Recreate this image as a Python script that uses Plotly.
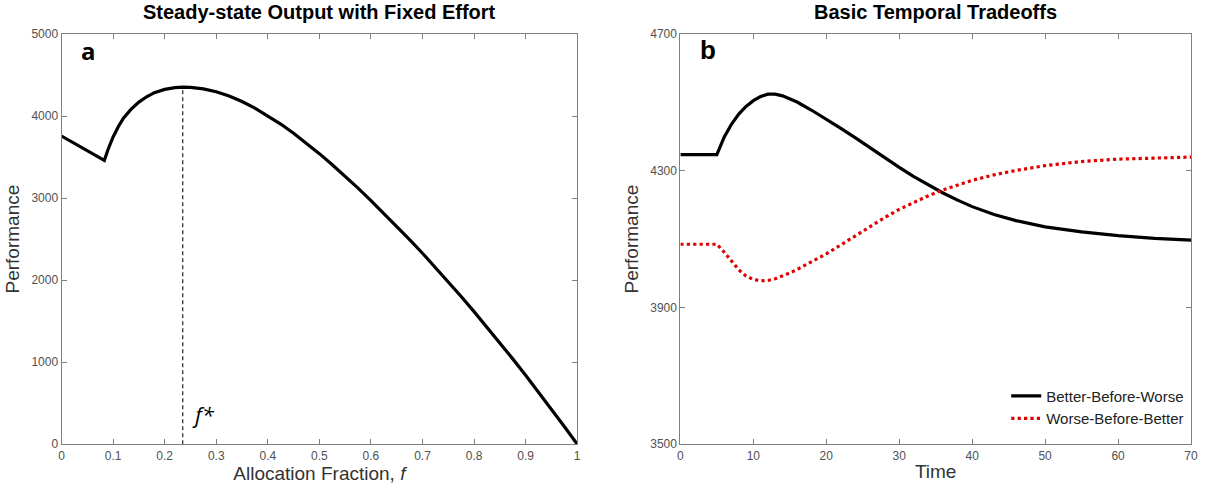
import plotly.graph_objects as go

# Panel a: steady-state performance vs allocation fraction
f_vals = [0.0, 0.083, 0.09, 0.1, 0.11, 0.12, 0.135, 0.15, 0.165, 0.18, 0.2,
          0.22, 0.235, 0.25, 0.275, 0.3, 0.325, 0.35, 0.375, 0.4, 0.425,
          0.45, 0.475, 0.5, 0.525, 0.55, 0.575, 0.6, 0.625, 0.65, 0.675,
          0.7, 0.725, 0.75, 0.775, 0.8, 0.825, 0.85, 0.875, 0.9, 0.925,
          0.95, 0.975, 1.0]
perf_vals = [3756, 3460, 3590, 3745, 3870, 3975, 4085, 4170, 4235, 4285, 4325,
             4347, 4352, 4350, 4332, 4297, 4245, 4177, 4097, 4005, 3903,
             3791, 3670, 3542, 3407, 3267, 3121, 2970, 2815, 2656, 2494,
             2328, 2156, 1980, 1800, 1616, 1428, 1236, 1040, 840, 636,
             428, 216, 0]
f_star = 0.235
perf_star = 4352

# Panel b: performance over time for the two strategies
t_vals = [0, 5, 6, 7, 8, 9, 10, 11, 12, 13, 14, 15, 16, 18, 20, 22, 24, 26,
          28, 30, 32, 34, 36, 38, 40, 43, 46, 50, 55, 60, 65, 70]
p_bbw = [4347, 4347, 4398, 4436, 4466, 4488, 4505, 4517, 4524, 4524, 4519,
         4511, 4501, 4477, 4451, 4424, 4396, 4367, 4338, 4310, 4283, 4258,
         4235, 4214, 4195, 4172, 4154, 4136, 4121, 4110, 4102, 4097]
p_wbb = [4085, 4085, 4062, 4035, 4010, 3992, 3982, 3978, 3979, 3984, 3992,
         4001, 4011, 4033, 4057, 4083, 4110, 4137, 4163, 4187, 4208, 4227,
         4244, 4259, 4272, 4288, 4301, 4315, 4327, 4334, 4338, 4340]

a_xticks = [0, 0.1, 0.2, 0.3, 0.4, 0.5, 0.6, 0.7, 0.8, 0.9, 1]
a_xlabels = ["0", "0.1", "0.2", "0.3", "0.4", "0.5", "0.6", "0.7", "0.8", "0.9", "1"]
a_yticks = [0, 1000, 2000, 3000, 4000, 5000]
b_xticks = [0, 10, 20, 30, 40, 50, 60, 70]
b_yticks = [3500, 3900, 4300, 4700]

AX = "#808080"
SANS = "Liberation Sans, Arial"
TICKFONT = dict(family=SANS, size=12, color="#505050")
LABFONT = dict(family=SANS, size=19, color="#333333")

fig = go.Figure()

# panel a
fig.add_trace(go.Scatter(x=f_vals, y=perf_vals, mode="lines",
                         line=dict(color="black", width=3.2),
                         showlegend=False, xaxis="x", yaxis="y"))
fig.add_trace(go.Scatter(x=[f_star, f_star], y=[0, perf_star], mode="lines",
                         line=dict(color="#333333", width=1.3, dash="4px,3px"),
                         showlegend=False, xaxis="x", yaxis="y"))

# panel b
fig.add_trace(go.Scatter(x=t_vals, y=p_bbw, mode="lines", name="Better-Before-Worse",
                         line=dict(color="black", width=3.2),
                         xaxis="x2", yaxis="y2"))
fig.add_trace(go.Scatter(x=t_vals, y=p_wbb, mode="lines", name="Worse-Before-Better",
                         line=dict(color="#e00000", width=3.2, dash="dot"),
                         xaxis="x2", yaxis="y2"))

common = dict(showline=True, linecolor=AX, linewidth=1, mirror="ticks",
              ticks="inside", ticklen=5, tickcolor=AX, showgrid=False,
              zeroline=False, tickfont=TICKFONT)

YDOM = [0.0718, 0.9426]

fig.update_layout(
    autosize=True,
    margin=dict(l=0, r=0, t=0, b=0),
    paper_bgcolor="white", plot_bgcolor="white",
    xaxis=dict(domain=[0.0489, 0.4797], range=[0, 1], tickvals=a_xticks,
               ticktext=a_xlabels, anchor="y",
               title=dict(text="Allocation Fraction, <i>f</i>", font=LABFONT, standoff=2),
               **common),
    yaxis=dict(domain=YDOM, range=[0, 5000], tickvals=a_yticks,
               anchor="x",
               title=dict(text="Performance", font=LABFONT, standoff=6),
               **common),
    xaxis2=dict(domain=[0.5659, 0.9925], range=[0, 70], tickvals=b_xticks,
                anchor="y2",
                title=dict(text="Time", font=LABFONT, standoff=3),
                **common),
    yaxis2=dict(domain=YDOM, range=[3500, 4700], tickvals=b_yticks,
                anchor="x2",
                title=dict(text="Performance", font=LABFONT, standoff=6),
                **common),
    legend=dict(x=0.991, y=0.092, xanchor="right", yanchor="bottom",
                bgcolor="rgba(255,255,255,0)",
                font=dict(family=SANS, size=15, color="#222222"),
                tracegroupgap=2),
    annotations=[
        dict(text="<b>Steady-state Output with Fixed Effort</b>", xref="paper", yref="paper",
             x=0.2643, y=0.989, xanchor="center", yanchor="middle", showarrow=False,
             font=dict(family=SANS, size=20, color="black")),
        dict(text="<b>Basic Temporal Tradeoffs</b>", xref="paper", yref="paper",
             x=0.7792, y=0.989, xanchor="center", yanchor="middle", showarrow=False,
             font=dict(family=SANS, size=20, color="black")),
        dict(text="<b>a</b>", xref="x domain", yref="y domain", x=0.052, y=0.96,
             xanchor="center", yanchor="middle", showarrow=False,
             font=dict(family="Open Sans, Noto Sans", size=24, color="black")),
        dict(text="<b>b</b>", xref="x2 domain", yref="y2 domain", x=0.055, y=0.96,
             xanchor="center", yanchor="middle", showarrow=False,
             font=dict(family=SANS, size=26, color="black")),
        dict(text="<i>f*</i>", xref="x", yref="y", x=0.275, y=370,
             xanchor="center", yanchor="middle", showarrow=False,
             font=dict(family="Open Sans, Noto Sans", size=22, color="black")),
    ],
)

fig.write_html("out.html")
